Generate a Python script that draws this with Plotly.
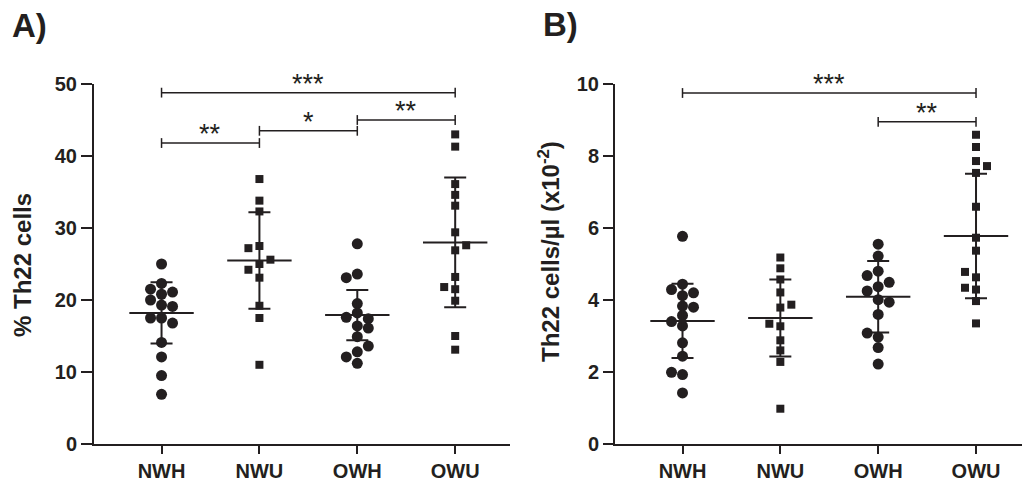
import numpy as np
import plotly.graph_objects as go

# ---------------- data ----------------
groups = ["NWH", "NWU", "OWH", "OWU"]

# Panel A: % Th22 cells
a_nwh = [25.0, 22.3, 21.5, 21.1, 20.8, 20.0, 19.3, 19.1, 17.5, 17.5, 16.8, 14.1, 12.1, 9.5, 6.9]
a_nwu = [36.8, 33.8, 32.3, 27.5, 25.0, 27.2, 25.6, 24.2, 23.1, 19.2, 17.5, 11.0]
a_owh = [27.8, 23.6, 19.5, 18.2, 16.4, 14.9, 12.8, 11.2, 23.1, 17.4, 17.6, 16.1, 12.1, 13.6]
a_owu = [43.0, 41.3, 36.1, 34.6, 33.1, 29.4, 26.9, 23.2, 21.5, 19.9, 15.0, 13.1, 21.8, 27.6]
a_mean = [18.2, 25.5, 17.9, 28.0]
a_sd = [4.25, 6.7, 3.5, 9.0]
a_brackets = [(0, 3, 48.8, "***"), (0, 1, 41.8, "**"), (1, 2, 43.5, "*"), (2, 3, 45.0, "**")]

# Panel B: Th22 cells/µl (x10^-2)
b_nwh = [5.77, 4.44, 4.12, 3.83, 3.57, 3.28, 2.81, 2.44, 1.93, 1.42, 4.29, 4.20, 3.40, 3.80, 1.99]
b_nwu = [5.18, 4.88, 4.57, 4.21, 3.79, 3.27, 2.88, 2.60, 2.28, 0.98, 3.34, 3.87]
b_owh = [5.55, 5.22, 4.80, 4.37, 4.01, 3.60, 2.97, 2.68, 2.22, 4.68, 4.49, 4.25, 3.94, 3.08]
b_owu = [8.59, 8.25, 7.86, 7.53, 6.59, 5.73, 5.37, 4.63, 4.29, 3.97, 3.35, 4.78, 7.72, 4.34]
b_mean = [3.42, 3.50, 4.09, 5.78]
b_sd = [1.03, 1.07, 0.99, 1.73]
b_brackets = [(0, 3, 9.75, "***"), (2, 3, 8.95, "**")]

a_ticks = [0, 10, 20, 30, 40, 50]
b_ticks = [0, 2, 4, 6, 8, 10]

# ---------------- layout constants ----------------
W, H = 1022, 483
TOP, BOT = 84, 444
INK = "#231f20"
FONT = "Liberation Sans, Arial, Helvetica, sans-serif"
symbols = ["circle", "square", "circle", "square"]
sizes = {"circle": 11, "square": 8}

panels = [
    dict(vals=[a_nwh, a_nwu, a_owh, a_owu], mean=a_mean, sd=a_sd, br=a_brackets,
         ticks=a_ticks, yr=[0, 50], xdom=(94, 510), xr=[-0.69, 3.56], xa="x", ya="y"),
    dict(vals=[b_nwh, b_nwu, b_owh, b_owu], mean=b_mean, sd=b_sd, br=b_brackets,
         ticks=b_ticks, yr=[0, 10], xdom=(615, 1022), xr=[-0.69, 3.47], xa="x2", ya="y2"),
]


def swarm(vals, px_per_unit, d_px=9.0):
    """Simple beeswarm: centre first, then alternate sides."""
    cols, offs, toggle = {}, [], -1
    for v in vals:
        def free(c):
            return all(abs(v - w) * px_per_unit >= d_px for w in cols.get(c, []))
        placed = 0 if free(0) else None
        k = 1
        while placed is None:
            for c in (toggle * k, -toggle * k):
                if free(c):
                    placed = c
                    break
            k += 1
        if placed != 0:
            toggle = -int(np.sign(placed))
        cols.setdefault(placed, []).append(v)
        offs.append(placed)
    return offs


fig = go.Figure()
annotations = []

for p in panels:
    ypx = (BOT - TOP) / (p["yr"][1] - p["yr"][0])
    xpx = (p["xdom"][1] - p["xdom"][0]) / (p["xr"][1] - p["xr"][0])
    step = 11.0 / xpx
    for gi, vals in enumerate(p["vals"]):
        offs = swarm(vals, ypx)
        fig.add_trace(go.Scatter(
            x=[gi + o * step for o in offs], y=vals, mode="markers",
            marker=dict(symbol=symbols[gi], size=sizes[symbols[gi]], color=INK, line=dict(width=0)),
            xaxis=p["xa"], yaxis=p["ya"], showlegend=False, hoverinfo="y"))
    # mean +/- SD
    fig.add_trace(go.Scatter(
        x=list(range(4)), y=p["mean"], mode="markers",
        marker=dict(symbol="line-ew", size=46, color=INK, line=dict(width=2, color=INK)),
        error_y=dict(type="data", array=p["sd"], visible=True, width=11, thickness=2, color=INK),
        xaxis=p["xa"], yaxis=p["ya"], showlegend=False, hoverinfo="y"))
    # significance brackets
    for (g1, g2, yb, lab) in p["br"]:
        fig.add_trace(go.Scatter(
            x=[g1, g2], y=[yb, yb], mode="lines+markers",
            line=dict(color=INK, width=1.5),
            marker=dict(symbol="line-ns", size=7, color=INK, line=dict(width=1.5, color=INK)),
            xaxis=p["xa"], yaxis=p["ya"], showlegend=False, hoverinfo="skip", cliponaxis=False))
        annotations.append(dict(
            x=(g1 + g2) / 2, y=yb, xref=p["xa"], yref=p["ya"], text=lab, showarrow=False,
            yanchor="middle", yshift=9, font=dict(family=FONT, size=27, color=INK)))

ydom = [(H - BOT) / H, (H - TOP) / H]

axis_common = dict(showline=True, linewidth=2, linecolor=INK, ticks="outside", tickwidth=2,
                   tickcolor=INK, showgrid=False, zeroline=False, automargin=False,
                   tickfont=dict(family=FONT, size=20, color=INK, weight="bold"))

fig.update_layout(
    width=W, height=H, margin=dict(l=0, r=0, t=0, b=0, autoexpand=False),
    paper_bgcolor="white", plot_bgcolor="white",
    xaxis=dict(domain=[94 / W, 510 / W], range=panels[0]["xr"], tickvals=list(range(4)),
               ticktext=groups, ticklen=8, anchor="y", **axis_common),
    yaxis=dict(domain=ydom, range=panels[0]["yr"], tickvals=a_ticks, ticklen=11, anchor="x",
               **axis_common),
    xaxis2=dict(domain=[615 / W, 1.0], range=panels[1]["xr"], tickvals=list(range(4)),
                ticktext=groups, ticklen=8, anchor="y2", **axis_common),
    yaxis2=dict(domain=ydom, range=panels[1]["yr"], tickvals=b_ticks, ticklen=10, anchor="x2",
                **axis_common),
)

annotations += [
    dict(text="% Th22 cells", x=22 / W, y=(H - 265) / H, xref="paper", yref="paper",
         textangle=-90, showarrow=False, xanchor="center", yanchor="middle",
         font=dict(family=FONT, size=24, color=INK, weight="bold")),
    dict(text="Th22 cells/µl (x10<sup>-2</sup>)", x=549 / W, y=(H - 252) / H, xref="paper",
         yref="paper", textangle=-90, showarrow=False, xanchor="center", yanchor="middle",
         font=dict(family=FONT, size=24, color=INK, weight="bold")),
    dict(text="A)", x=10 / W, y=1 - 5 / H, xref="paper", yref="paper", showarrow=False,
         xanchor="left", yanchor="top", font=dict(family=FONT, size=33, color=INK, weight="bold")),
    dict(text="B)", x=541 / W, y=1 - 4 / H, xref="paper", yref="paper", showarrow=False,
         xanchor="left", yanchor="top", font=dict(family=FONT, size=33, color=INK, weight="bold")),
]
fig.update_layout(annotations=annotations)

fig.write_html("out.html")
